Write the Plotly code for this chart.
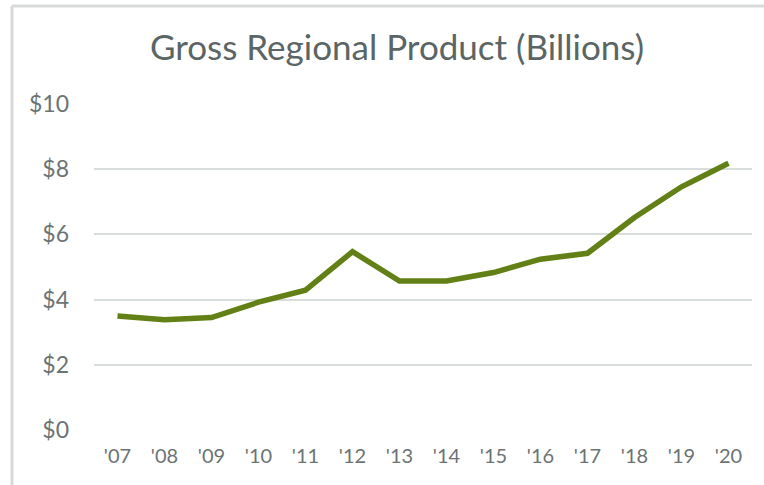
import plotly.graph_objects as go

years = ["'07", "'08", "'09", "'10", "'11", "'12", "'13", "'14", "'15", "'16", "'17", "'18", "'19", "'20"]
grp = [3.50, 3.38, 3.45, 3.92, 4.29, 5.47, 4.57, 4.57, 4.83, 5.24, 5.42, 6.52, 7.46, 8.18]
y_ticks = [0, 2, 4, 6, 8, 10]
y_labels = ["$0", "$2", "$4", "$6", "$8", "$10"]

W, H = 764, 485
L, R, T, B = 94, 12, 104, 55
PW, PH = W - L - R, H - T - B

fig = go.Figure()
fig.add_trace(go.Scatter(
    x=years, y=grp, mode="lines",
    line=dict(color="#638016", width=5.5),
    hoverinfo="x+y",
))

def px(x):
    return (x - L) / PW
def py(y):
    return (H - B - y) / PH

fig.update_layout(
    width=W, height=H,
    paper_bgcolor="white", plot_bgcolor="white",
    showlegend=False,
    margin=dict(l=L, r=R, t=T, b=B, autoexpand=False),
    title=dict(text="Gross Regional Product (Billions)", x=397 / W, xanchor="center",
               xref="container",
               y=1 - 48 / H, yanchor="middle", yref="container",
               font=dict(family="Lato", size=35, color="#5b6565")),
    xaxis=dict(type="category", range=[-0.5, 13.5], showgrid=False, zeroline=False,
               showline=False, ticks="", automargin=False,
               tickfont=dict(family="Lato", size=20, color="#6b7373"),
               ticklabelstandoff=12),
    yaxis=dict(range=[0, 10], tickvals=y_ticks, ticktext=y_labels,
               showgrid=True, gridcolor="#d9dcdc", gridwidth=2,
               zeroline=False, showline=False, ticks="", automargin=False,
               tickfont=dict(family="Lato", size=23, color="#6b7373"),
               ticklabelstandoff=24),
    shapes=[
        dict(type="line", xref="paper", yref="paper", x0=px(12), x1=px(W + 5), y0=py(6), y1=py(6),
             line=dict(color="#d8dada", width=3)),
        dict(type="line", xref="paper", yref="paper", x0=px(12), x1=px(12), y0=py(6), y1=py(H + 5),
             line=dict(color="#d8dada", width=3)),
    ],
)
fig.write_html(
    "out.html",
    config={"displayModeBar": False},
    post_script="document.body.style.margin='0';document.body.style.overflow='hidden';",
)
